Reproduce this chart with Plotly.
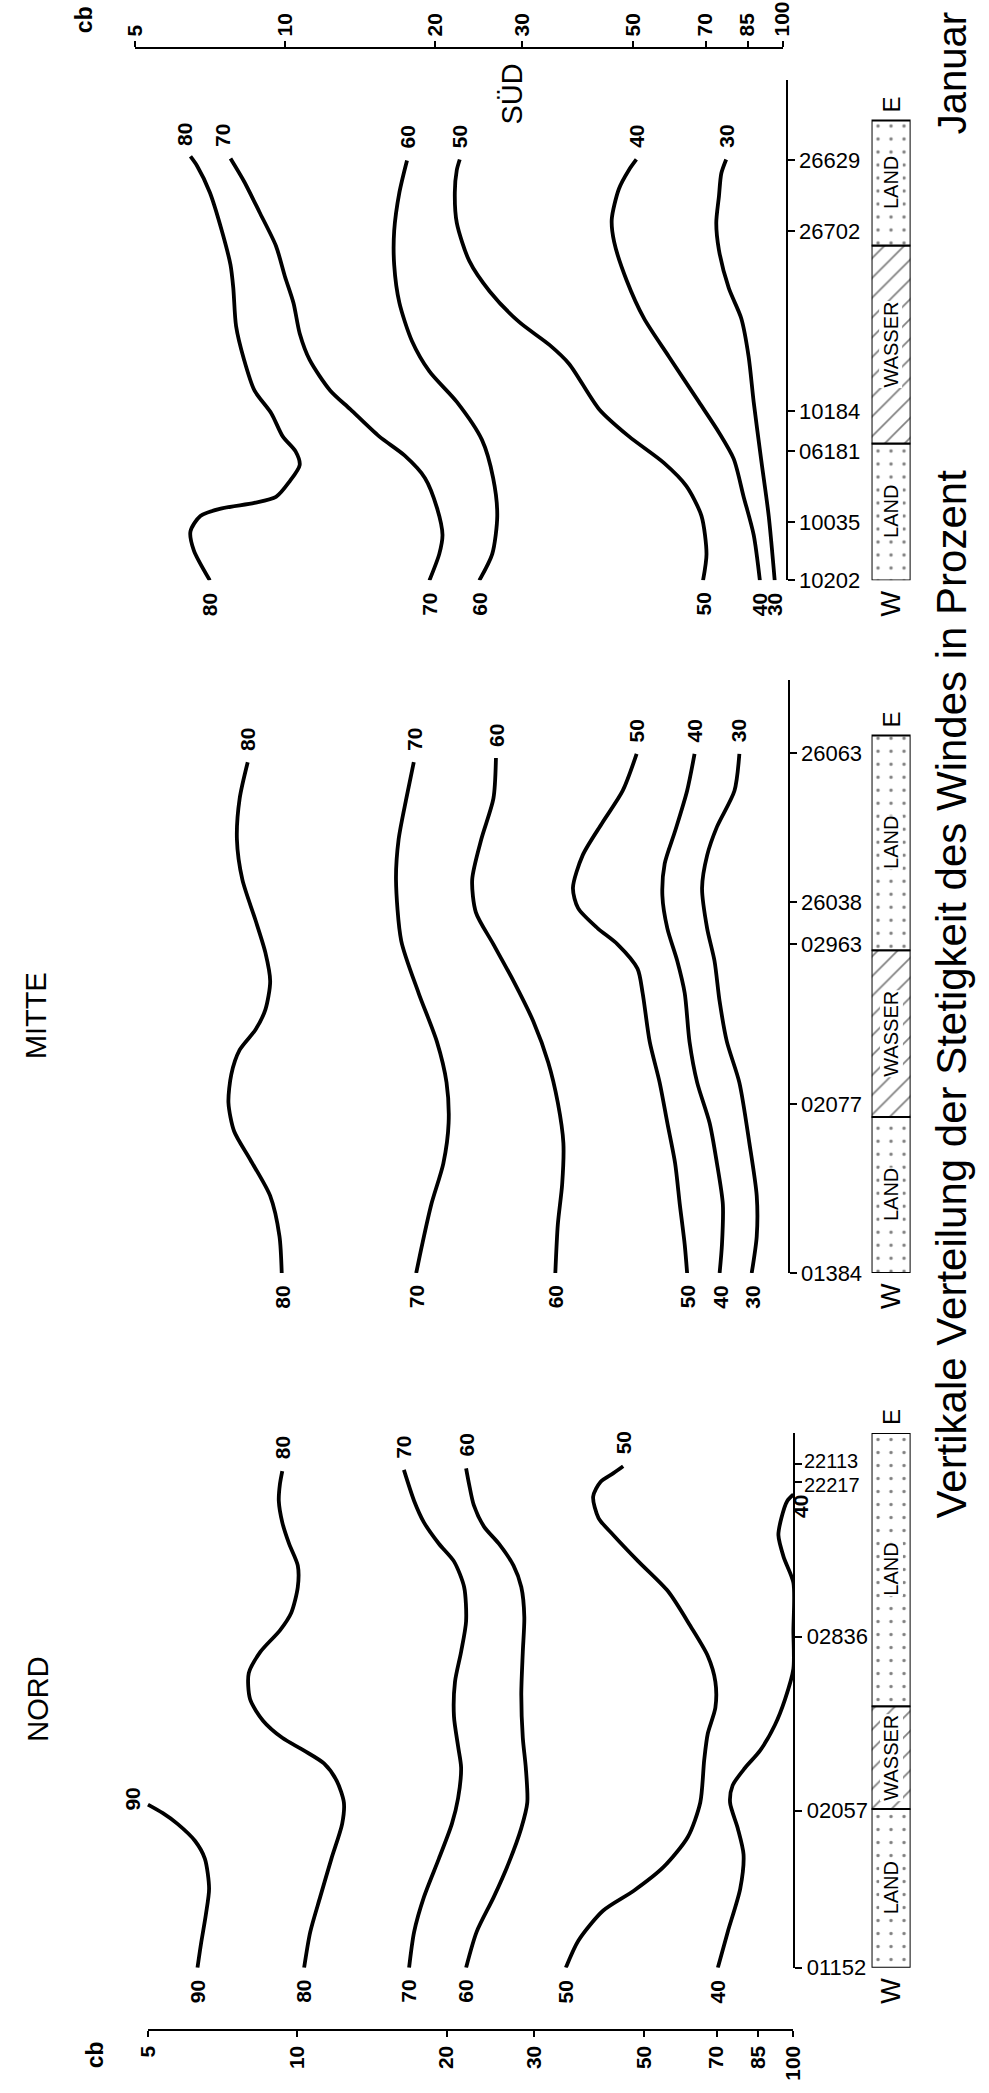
import math
import plotly.graph_objects as go

# ---------------------------------------------------------------------------
# Stations along each W-E section (position in % of the section length)
# ---------------------------------------------------------------------------
NORD_STATIONS = ["01152", "02057", "02836", "22217", "22113"]
NORD_STATION_POS = [0, 29.4, 61.9, 90.9, 94.2]
MITTE_STATIONS = ["01384", "02077", "02963", "26038", "26063"]
MITTE_STATION_POS = [0, 28.5, 55.4, 62.5, 87.6]
SUED_STATIONS = ["10202", "10035", "06181", "10184", "26702", "26629"]
SUED_STATION_POS = [0, 11.7, 25.8, 33.8, 69.8, 84.1]

# Surface type along each section (segment edges in % of section length)
NORD_SURFACE = ["LAND", "WASSER", "LAND"]
NORD_SURFACE_EDGES = [0, 29.7, 48.9, 100]
MITTE_SURFACE = ["LAND", "WASSER", "LAND"]
MITTE_SURFACE_EDGES = [0, 26.3, 54.4, 90.6]
SUED_SURFACE = ["LAND", "WASSER", "LAND"]
SUED_SURFACE_EDGES = [0, 27.4, 67.0, 92.0]

# Pressure scale (cb)
CB_TICKS = [5, 10, 20, 30, 50, 70, 85, 100]

# ---------------------------------------------------------------------------
# Isolines of wind steadiness (%): position along section and pressure (cb)
# ---------------------------------------------------------------------------
NORD_90_POS = [0, 4.3, 9.9, 14.8, 20.4, 23.7, 26.9, 28.9, 30.5]
NORD_90_CB = [6.35, 6.45, 6.6, 6.7, 6.57, 6.28, 5.79, 5.41, 5.05]
NORD_80_POS = [0, 6.7, 13.2, 20.4, 26.9, 30.9, 34.9, 38.2, 40.6, 43.0, 46.2, 50.2,
               55.1, 59.1, 63.1, 66.4, 71.2, 75.2, 79.3, 83.3, 87.3, 90.5, 92.9]
NORD_80_CB = [10.4, 10.7, 11.2, 11.8, 12.4, 12.5, 12.1, 11.4, 10.4, 9.4, 8.6, 8.1,
              8.05, 8.5, 9.3, 9.8, 10.1, 10.1, 9.7, 9.4, 9.25, 9.3, 9.4]
NORD_70_POS = [0, 6.7, 13.2, 20.4, 26.9, 31.7, 37.4, 41.4, 47.0, 53.5, 59.1, 64.8,
               71.2, 76.0, 79.3, 83.3, 87.3, 93.1]
NORD_70_CB = [16.9, 17.3, 18.1, 19.4, 20.6, 21.2, 21.5, 21.2, 20.8, 20.9, 21.5, 22.0,
              21.8, 20.8, 19.4, 18.1, 17.3, 16.5]
NORD_60_POS = [0, 6.7, 13.2, 19.6, 26.1, 30.9, 37.4, 43.0, 51.1, 59.1, 65.6, 71.2,
               75.2, 79.3, 82.5, 86.5, 90.5, 93.4]
NORD_60_CB = [22.0, 23.1, 25.0, 26.8, 28.4, 29.2, 29.0, 28.6, 28.4, 28.6, 28.8, 28.4,
              27.4, 25.6, 23.9, 22.8, 22.3, 22.0]
NORD_50_POS = [0, 5.1, 10.7, 14.4, 18.8, 24.5, 30.9, 38.9, 43.8, 48.6, 53.5, 58.3,
               63.9, 70.4, 76.0, 80.9, 84.1, 88.1, 90.9, 92.5, 93.8]
NORD_50_CB = [34.9, 37.0, 41.5, 47.8, 54.8, 61.4, 65.0, 66.2, 67.3, 69.7, 69.7, 67.3,
              62.1, 56.0, 48.8, 43.5, 40.6, 39.6, 41.0, 43.5, 45.5]
NORD_40_POS = [0, 6.7, 14.8, 21.2, 26.1, 30.9, 34.1, 37.4, 40.6, 45.4, 50.2, 55.9,
               63.0, 72.0, 76.8, 80.9, 84.1, 87.3, 88.5]
NORD_40_CB = [70.5, 73.8, 78.2, 79.4, 77.3, 74.6, 75.5, 80.0, 85.7, 91.8, 96.2, 100,
              100, 100, 95.6, 93.3, 94.6, 97.2, 100]

MITTE_80_POS = [0, 6.2, 13.0, 19.1, 23.9, 28.7, 33.5, 37.6, 41.0, 44.4, 49.2, 54.0,
                59.5, 66.3, 73.1, 80.0, 86.1]
MITTE_80_CB = [9.6, 9.5, 9.1, 8.3, 7.7, 7.5, 7.6, 7.9, 8.5, 8.9, 9.1, 8.9,
               8.5, 8.0, 7.8, 7.9, 8.2]
MITTE_70_POS = [0, 4.8, 11.6, 18.5, 25.3, 32.1, 39.0, 47.2, 56.0, 66.3, 73.1, 80.0, 86.1]
MITTE_70_CB = [17.9, 18.4, 19.2, 20.3, 20.8, 20.6, 19.7, 18.1, 16.7, 16.3, 16.5, 17.1, 17.7]
MITTE_60_POS = [0, 8.2, 15.0, 21.9, 28.7, 35.5, 42.4, 49.2, 55.4, 60.8, 66.3, 73.1,
                80.0, 86.8]
MITTE_60_CB = [34.1, 34.5, 35.2, 35.4, 34.5, 33.0, 30.8, 28.1, 25.6, 23.6, 23.2, 24.2,
               25.6, 25.9]
MITTE_50_POS = [0, 4.8, 11.6, 18.5, 25.3, 32.1, 39.0, 47.2, 51.3, 55.4, 58.1, 61.5,
                64.9, 70.4, 75.9, 81.3, 87.5]
MITTE_50_CB = [62.8, 62.1, 60.7, 59.4, 57.3, 55.3, 52.8, 51.1, 49.9, 45.5, 41.5, 37.9,
               37.0, 38.7, 42.4, 46.6, 49.7]
MITTE_40_POS = [0, 4.8, 11.6, 18.5, 25.3, 32.1, 39.0, 47.2, 52.6, 58.1, 63.6, 69.0,
                74.5, 81.3, 87.5]
MITTE_40_CB = [73.0, 73.8, 74.1, 72.1, 69.7, 65.8, 63.5, 62.1, 60.0, 57.3, 56.0, 56.6,
               59.4, 62.8, 65.0]
MITTE_30_POS = [0, 6.2, 13.0, 21.9, 32.1, 39.0, 45.8, 52.6, 58.1, 64.9, 70.4, 75.2,
                81.3, 87.5]
MITTE_30_CB = [84.7, 86.7, 86.7, 83.8, 80.0, 75.5, 73.0, 71.3, 68.9, 67.3, 68.9, 72.1,
               78.2, 80.0]

SUED_80_POS = [0, 6.0, 9.8, 12.9, 14.4, 15.5, 16.7, 19.7, 23.1, 25.8, 28.8, 33.4,
               38.0, 44.1, 50.9, 58.5, 63.1, 69.9, 77.6, 82.9, 84.8]
SUED_80_CB = [7.0, 6.5, 6.4, 6.7, 7.4, 8.6, 9.5, 10.1, 10.6, 10.4, 9.8, 9.3,
              8.6, 8.2, 7.9, 7.8, 7.7, 7.4, 7.0, 6.6, 6.4]
SUED_70_POS = [0, 5.3, 9.1, 14.4, 20.5, 25.0, 28.8, 34.2, 38.0, 44.1, 49.4, 55.5,
               60.8, 66.9, 73.7, 79.8, 84.4]
SUED_70_CB = [19.3, 20.2, 20.5, 20.0, 18.9, 17.2, 15.3, 13.4, 12.2, 11.1, 10.6, 10.3,
              9.9, 9.5, 8.8, 8.2, 7.7]
SUED_60_POS = [0, 5.3, 12.9, 20.5, 28.1, 35.7, 41.8, 47.9, 55.5, 63.1, 69.9, 77.6, 84.0]
SUED_60_CB = [24.3, 25.8, 26.4, 25.9, 24.6, 21.9, 19.3, 17.8, 16.8, 16.4, 16.4, 16.8, 17.4]
SUED_50_POS = [0, 5.3, 12.9, 18.9, 23.5, 28.8, 34.2, 43.3, 47.1, 51.7, 57.8, 63.9,
               71.5, 77.6, 82.1, 84.2]
SUED_50_CB = [68.3, 69.4, 67.8, 63.2, 57.0, 48.5, 42.3, 36.8, 33.6, 29.2, 25.5, 23.2,
              21.9, 21.7, 21.9, 22.2]
SUED_40_POS = [0, 9.1, 16.7, 24.3, 29.6, 35.7, 44.8, 52.4, 60.0, 67.7, 72.2, 78.3,
               82.1, 84.2]
SUED_40_CB = [88.8, 86.3, 82.4, 78.7, 73.5, 67.0, 58.3, 52.0, 48.0, 45.3, 44.8, 46.3,
              48.5, 50.2]
SUED_30_POS = [0, 12.9, 24.3, 35.7, 44.8, 52.4, 58.5, 66.1, 71.5, 76.8, 81.4, 84.2]
SUED_30_CB = [95.1, 92.5, 89.3, 86.3, 84.3, 81.5, 76.9, 73.5, 72.6, 73.5, 74.3, 76.0]

# ---------------------------------------------------------------------------
# Page geometry
# ---------------------------------------------------------------------------
W, H = 989, 2093
FONT = "Liberation Sans, Arial, sans-serif"
TICK_FONT = 22


def px(x):
    return x / W


def py(y):
    return 1 - y / H


panels = [
    dict(title="NORD", xa="x", ya="y", x5=137, x100=800, y0=1980, y1=1442,
         stations=NORD_STATIONS, spos=NORD_STATION_POS,
         surface=NORD_SURFACE, edges=NORD_SURFACE_EDGES,
         lines={90: (NORD_90_POS, NORD_90_CB), 80: (NORD_80_POS, NORD_80_CB),
                70: (NORD_70_POS, NORD_70_CB), 60: (NORD_60_POS, NORD_60_CB),
                50: (NORD_50_POS, NORD_50_CB), 40: (NORD_40_POS, NORD_40_CB)},
         title_xy=(27, 1710)),
    dict(title="MITTE", xa="x2", ya="y2", x5=132, x100=794, y0=1281, y1=684,
         stations=MITTE_STATIONS, spos=MITTE_STATION_POS,
         surface=MITTE_SURFACE, edges=MITTE_SURFACE_EDGES,
         lines={80: (MITTE_80_POS, MITTE_80_CB), 70: (MITTE_70_POS, MITTE_70_CB),
                60: (MITTE_60_POS, MITTE_60_CB), 50: (MITTE_50_POS, MITTE_50_CB),
                40: (MITTE_40_POS, MITTE_40_CB), 30: (MITTE_30_POS, MITTE_30_CB)},
         title_xy=(24, 1022)),
    dict(title="SÜD", xa="x3", ya="y3", x5=128, x100=792, y0=584, y1=81,
         stations=SUED_STATIONS, spos=SUED_STATION_POS,
         surface=SUED_SURFACE, edges=SUED_SURFACE_EDGES,
         lines={80: (SUED_80_POS, SUED_80_CB), 70: (SUED_70_POS, SUED_70_CB),
                60: (SUED_60_POS, SUED_60_CB), 50: (SUED_50_POS, SUED_50_CB),
                40: (SUED_40_POS, SUED_40_CB), 30: (SUED_30_POS, SUED_30_CB)},
         title_xy=(512, 95)),
]

# label placement tweaks (pixel shifts) for a few line ends
label_shift = {
    ("NORD", 90, "top"): (-15, 6),
    ("NORD", 40, "top"): (7, -12),
    ("SÜD", 80, "top"): (-6, 22),
    ("SÜD", 70, "top"): (-8, 23),
}

fig = go.Figure()
annotations = []


def note(**kw):
    base = dict(showarrow=False, textangle=-90, xanchor="center", yanchor="middle")
    base.update(kw)
    annotations.append(base)


layout = dict(
    width=W, height=H,
    margin=dict(l=0, r=0, t=0, b=0),
    paper_bgcolor="white", plot_bgcolor="rgba(0,0,0,0)",
    showlegend=False, barmode="overlay", hovermode=False,
    font=dict(family=FONT, color="black"),
)

log_range = [math.log10(5), math.log10(100)]

for p in panels:
    xkey = "xaxis" if p["xa"] == "x" else "xaxis" + p["xa"][1:]
    ykey = "yaxis" if p["ya"] == "y" else "yaxis" + p["ya"][1:]
    layout[xkey] = dict(type="log", range=log_range, domain=[px(p["x5"]), px(p["x100"])],
                        anchor=p["ya"], visible=False)

    # stations closer together than the label height get their labels
    # written separately and nudged apart
    spos = p["spos"]
    crowded = set()
    for k in range(1, len(spos)):
        if spos[k] - spos[k - 1] < 5:
            crowded.update({k - 1, k})
    ticktext = ["" if k in crowded else s for k, s in enumerate(p["stations"])]
    layout[ykey] = dict(
        domain=[py(p["y0"]), py(p["y1"])], range=[0, 100], anchor=p["xa"], side="right",
        showline=True, linecolor="black", linewidth=2, showgrid=False, zeroline=False,
        ticks="outside", ticklen=7, tickwidth=2, tickcolor="black",
        tickvals=spos, ticktext=ticktext,
        tickfont=dict(size=TICK_FONT, family=FONT, color="black"),
    )
    for k in sorted(crowded):
        lower = k == min(crowded)
        annotations.append(dict(
            x=px(p["x100"] + 9), y=spos[k], xref="paper", yref=p["ya"],
            text=p["stations"][k], showarrow=False, xanchor="left", yanchor="middle",
            yshift=-3 if lower else 3,
            font=dict(size=TICK_FONT - 2, family=FONT, color="black")))

    # isolines
    for val, (pos, cb) in p["lines"].items():
        fig.add_trace(go.Scatter(
            x=cb, y=pos, xaxis=p["xa"], yaxis=p["ya"], mode="lines",
            line=dict(color="black", width=3.8, shape="spline", smoothing=0.75),
            hoverinfo="skip"))
        for end, idx, dy in (("bottom", 0, -24), ("top", -1, 23)):
            sx, sy = label_shift.get((p["title"], val, end), (0, dy))
            note(x=math.log10(cb[idx]), y=pos[idx], xref=p["xa"], yref=p["ya"],
                 text=f"<b>{val}</b>", xshift=sx, yshift=sy,
                 font=dict(size=21, family=FONT, color="black"))

    # surface strip (land / water)
    edges = p["edges"]
    starts = edges[:-1]
    lengths = [b - a for a, b in zip(edges[:-1], edges[1:])]
    shapes = ["/" if s == "WASSER" else "." for s in p["surface"]]
    fig.add_trace(go.Bar(
        x=[0.5] * len(starts), y=lengths, base=starts, width=1,
        xaxis="x6", yaxis=p["ya"],
        marker=dict(color="white", line=dict(color="black", width=2),
                    pattern=dict(shape=shapes, fgcolor="black", bgcolor="white",
                                 size=[14 if s == "/" else 13 for s in shapes],
                                 solidity=[0.12 if s == "/" else 0.05 for s in shapes])),
        hoverinfo="skip"))
    for name, a, b in zip(p["surface"], edges[:-1], edges[1:]):
        note(x=0.5, y=(a + b) / 2, xref="x6", yref=p["ya"], text=name,
             bgcolor="white", borderpad=0,
             font=dict(size=20, family=FONT, color="black"))
    note(x=0.5, y=edges[0], xref="x6", yref=p["ya"], text="W", yshift=-23,
         font=dict(size=27, family=FONT, color="black"))
    note(x=0.5, y=edges[-1], xref="x6", yref=p["ya"], text="E", yshift=16,
         font=dict(size=24, family=FONT, color="black"))

    # section title
    tx, ty = p["title_xy"]
    note(x=px(tx), y=py(ty), xref="paper", yref="paper", text=p["title"],
         font=dict(size=29, family=FONT, color="black"))

# strip axis
layout["xaxis6"] = dict(domain=[px(880), px(920)], range=[0, 1], anchor="y", visible=False)

# pressure scales at top and bottom
cb_axis = dict(type="log", range=log_range, anchor="free", showline=True, linecolor="black",
               linewidth=2, ticks="outside", ticklen=6, tickwidth=2, tickcolor="black",
               tickvals=CB_TICKS, ticktext=[f"<b>{v}</b>" for v in CB_TICKS], tickangle=-90,
               showgrid=False, zeroline=False,
               tickfont=dict(size=21, family=FONT, color="black"))
layout["xaxis4"] = dict(cb_axis, domain=[px(126), px(789)], position=py(48), side="top")
layout["xaxis5"] = dict(cb_axis, domain=[px(139), px(800)], position=py(2043), side="bottom")
fig.add_trace(go.Scatter(x=[5, 100], y=[50, 50], xaxis="x4", yaxis="y3", mode="markers",
                         marker=dict(opacity=0), hoverinfo="skip"))
fig.add_trace(go.Scatter(x=[5, 100], y=[50, 50], xaxis="x5", yaxis="y", mode="markers",
                         marker=dict(opacity=0), hoverinfo="skip"))
for cx, cy in ((74, 20), (85, 2068)):
    note(x=px(cx), y=py(cy), xref="paper", yref="paper", text="<b>cb</b>",
         font=dict(size=23, family=FONT, color="black"))

# headings along the right margin
note(x=px(962), y=py(1000), xref="paper", yref="paper",
     text="Vertikale Verteilung der Stetigkeit des Windes in Prozent",
     font=dict(size=42, family=FONT, color="black"))
note(x=px(962), y=py(74), xref="paper", yref="paper", text="Januar",
     font=dict(size=40, family=FONT, color="black"))

layout["annotations"] = annotations
fig.update_layout(**layout)
fig.write_html("out.html")
